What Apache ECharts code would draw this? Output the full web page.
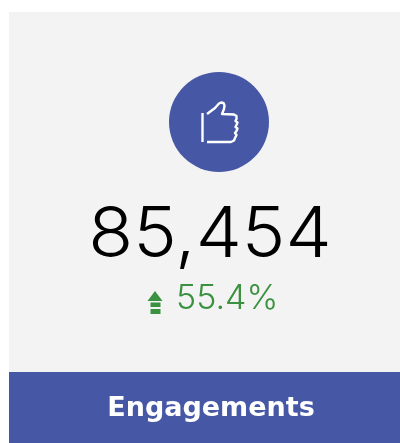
<!DOCTYPE html>
<html>
<head>
<meta charset="utf-8">
<style>
  html, body { margin: 0; padding: 0; background: #fff; }
  #main { width: 400px; height: 443px; }
</style>
<script src="https://cdn.jsdelivr.net/npm/echarts@6/dist/echarts.min.js"></script>
</head>
<body>
<div id="main"></div>
<script>
const metricLabels = ['Engagements'];
const metricValues = [85454];
const metricChanges = [55.4];

const blue = '#4657a5';
const green = '#3a913f';
const font = 'Inter, sans-serif';

let chart = echarts.init(document.getElementById('main'));

// outline of the thumb, traced off the icon
let thumb = [[207, 114], [215, 108], [219, 103.5], [221, 102.5], [223.5, 103], [224.5, 105.5], [224, 109], [222, 114],
    [234, 114.5], [236.5, 116], [236.5, 119], [235.5, 121], [237.5, 122.5], [236.5, 125], [235.5, 127], [237.5, 128.5],
    [236.5, 131], [235, 133], [236.5, 135], [235, 138], [234, 140.5], [231, 142], [207, 142]];

let option = {
    animation: false,
    graphic: [
        { type: 'rect', shape: { x: 9, y: 12, width: 391, height: 360 }, style: { fill: '#f3f3f3' } },
        { type: 'rect', shape: { x: 9, y: 372, width: 391, height: 71 }, style: { fill: blue } },
        { type: 'circle', shape: { cx: 219, cy: 122, r: 50 }, style: { fill: blue } },
        { type: 'line', shape: { x1: 202.5, y1: 113, x2: 202.5, y2: 142 }, style: { stroke: '#fff', lineWidth: 2.4 } },
        {
            type: 'polyline',
            shape: { points: thumb },
            style: { fill: 'none', stroke: '#fff', lineWidth: 2.4, lineJoin: 'round' }
        },
        {
            type: 'text',
            x: 210, y: 236, scaleX: 1.05,
            style: {
                text: metricValues[0].toLocaleString('en-US'),
                font: '300 70px ' + font, fill: '#000', textAlign: 'center', textVerticalAlign: 'middle'
            }
        },
        { type: 'polygon', shape: { points: [[155, 291], [162.5, 301], [147.5, 301]] }, style: { fill: green } },
        { type: 'rect', shape: { x: 150.5, y: 302.5, width: 10, height: 4.5 }, style: { fill: green } },
        { type: 'rect', shape: { x: 150.5, y: 309, width: 10, height: 5 }, style: { fill: green } },
        {
            type: 'text',
            style: {
                x: 176, y: 299, text: metricChanges[0] + '%',
                font: '300 34px ' + font, fill: green, textAlign: 'left', textVerticalAlign: 'middle'
            }
        },
        {
            type: 'text',
            style: {
                x: 211, y: 409, text: metricLabels[0],
                font: '700 27px "DejaVu Sans", sans-serif', fill: '#fff', textAlign: 'center', textVerticalAlign: 'middle'
            }
        }
    ]
};
chart.setOption(option);
</script>
</body>
</html>
